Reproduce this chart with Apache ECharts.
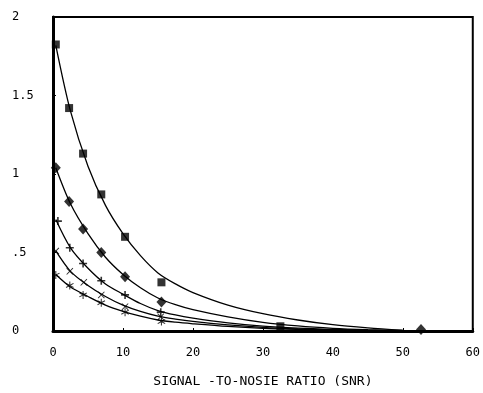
<!DOCTYPE html>
<html>
<head>
<meta charset="utf-8">
<script src="https://cdn.jsdelivr.net/npm/echarts@6/dist/echarts.min.js"></script>
<style>
  html, body { margin: 0; padding: 0; background: #fff; overflow: hidden; }
  #chart { width: 483px; height: 393px; }
</style>
</head>
<body>
<div id="chart"></div>
<script>
// fitted curves
const curveX = [0.4, 2.5, 5, 7.5, 10, 12.5, 15, 17.5, 20, 25, 30, 35, 40, 45, 50];
const curve1 = [1.82, 1.40, 1.05, 0.80, 0.62, 0.48, 0.37, 0.30, 0.245, 0.165, 0.11, 0.07, 0.04, 0.02, 0.005];
const curve2 = [1.04, 0.81, 0.62, 0.47, 0.36, 0.275, 0.21, 0.168, 0.136, 0.09, 0.055, 0.032, 0.017, 0.008, 0.002];
const curve3 = [0.71, 0.53, 0.40, 0.30, 0.235, 0.175, 0.13, 0.102, 0.082, 0.052, 0.031, 0.018, 0.01, 0.005, 0.001];
const curve4 = [0.51, 0.38, 0.29, 0.22, 0.165, 0.125, 0.095, 0.076, 0.061, 0.039, 0.023, 0.013, 0.007, 0.003, 0.001];
const curve5 = [0.36, 0.28, 0.22, 0.165, 0.125, 0.094, 0.07, 0.056, 0.046, 0.029, 0.017, 0.01, 0.005, 0.002, 0.001];

// measured points
const squareX = [0.4, 2.3, 4.3, 6.9, 10.3, 15.5, 32.5];
const squareY = [1.825, 1.42, 1.13, 0.87, 0.60, 0.31, 0.03];
const diamondX = [0.4, 2.3, 4.3, 6.9, 10.3, 15.5, 52.6];
const diamondY = [1.04, 0.825, 0.65, 0.50, 0.345, 0.185, 0.01];
const plusX = [0.7, 2.4, 4.3, 6.9, 10.3, 15.4];
const plusY = [0.70, 0.53, 0.43, 0.32, 0.23, 0.12];
const crossX = [0.4, 2.4, 4.4, 6.9, 10.3, 15.4];
const crossY = [0.51, 0.38, 0.31, 0.23, 0.155, 0.09];
const starX = [0.4, 2.4, 4.3, 6.9, 10.3, 15.5];
const starY = [0.356, 0.29, 0.23, 0.18, 0.12, 0.06];

const xTicks = [0, 10, 20, 30, 40, 50, 60];
const yTickLabels = { 0: '0', 0.5: '.5', 1: '1', 1.5: '1.5', 2: '2' };

const font = 'DejaVu Sans Mono';
const pairs = (xs, ys) => xs.map((x, i) => [x, ys[i]]);

const plusPath = 'path://M4,0H6V4H10V6H6V10H4V6H0V4H4Z';
const crossPath = 'path://M1,0L5,4L9,0L10,1L6,5L10,9L9,10L5,6L1,10L0,9L4,5L0,1Z';
const starPath = 'path://M4.4,0H5.6V3.9L9,1.9L9.6,3L6.2,5L9.6,7L9,8.1L5.6,6.1V10H4.4V6.1L1,8.1L0.4,7L3.8,5L0.4,3L1,1.9L4.4,3.9Z';

const line = (ys) => ({
  type: 'line',
  data: pairs(curveX, ys),
  smooth: 0.3,
  showSymbol: false,
  lineStyle: { color: '#000', width: 1.3 },
  z: 2
});
const marks = (xs, ys, symbol, size) => ({
  type: 'scatter',
  data: pairs(xs, ys),
  symbol: symbol,
  symbolSize: size,
  itemStyle: { color: '#000' },
  z: 3
});

const chart = echarts.init(document.getElementById('chart'));
chart.setOption({
  animation: false,
  backgroundColor: '#fff',
  grid: { left: 53, right: 5, top: 17, bottom: 56, show: true, borderColor: '#000', borderWidth: 2 },
  xAxis: {
    type: 'value',
    min: 0, max: 60, interval: 10,
    name: 'SIGNAL -TO-NOSIE RATIO (SNR)',
    nameLocation: 'middle',
    nameGap: 44,
    nameTextStyle: { color: '#000', fontFamily: font, fontSize: 13 },
    axisLine: { onZero: false, lineStyle: { color: '#000', width: 3 } },
    axisTick: { show: true, inside: true, length: 3, lineStyle: { color: '#000' } },
    splitLine: { show: false },
    axisLabel: {
      color: '#000', fontFamily: font, fontSize: 12, margin: 16,
      formatter: (v) => xTicks.includes(v) ? String(v) : ''
    }
  },
  yAxis: {
    type: 'value',
    min: 0, max: 2, interval: 0.5,
    axisLine: { onZero: false, lineStyle: { color: '#000', width: 3 } },
    axisTick: { show: true, inside: true, length: 3, lineStyle: { color: '#000' } },
    splitLine: { show: false },
    axisLabel: {
      color: '#000', fontFamily: font, fontSize: 12, margin: 41, align: 'left',
      formatter: (v) => yTickLabels[v] ?? ''
    }
  },
  series: [
    line(curve1), line(curve2), line(curve3), line(curve4), line(curve5),
    marks(squareX, squareY, 'rect', 8),
    marks(diamondX, diamondY, 'diamond', [10, 11]),
    marks(plusX, plusY, plusPath, 8),
    marks(crossX, crossY, crossPath, 7),
    marks(starX, starY, starPath, 8)
  ]
});
</script>
</body>
</html>
